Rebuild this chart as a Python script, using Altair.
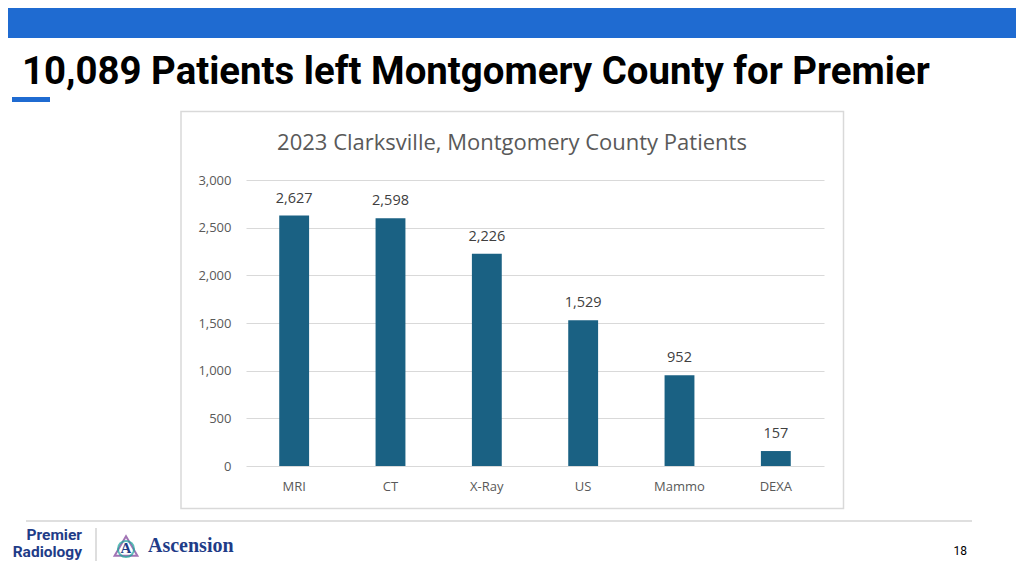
import altair as alt
import pandas as pd

# ---- data ----
categories = ["MRI", "CT", "X-Ray", "US", "Mammo", "DEXA"]
patients = [2627, 2598, 2226, 1529, 952, 157]
y_ticks = [0, 500, 1000, 1500, 2000, 2500, 3000]

slide_title = "10,089 Patients left Montgomery County for Premier"
chart_title = "2023 Clarksville, Montgomery County Patients"
page_number = "18"

df = pd.DataFrame({"category": categories, "patients": patients})
one = pd.DataFrame({"k": [0]})

# plot area origin in page coordinates
OX, OY = 246, 180
PW, PH = 578, 286


def px(x):
    return x - OX


def py(y):
    return y - OY


AXIS_GRAY = "#595959"
BAR = "#1a6183"
NAVY = "#1f3c88"

x_enc = alt.X(
    "category:N",
    sort=categories,
    title=None,
    scale=alt.Scale(paddingInner=0.69, paddingOuter=0.345),
    axis=alt.Axis(
        labelAngle=0,
        labelColor=AXIS_GRAY,
        labelFont="Open Sans",
        labelFontSize=13,
        labelPadding=14,
        ticks=False,
        domain=False,
        grid=False,
    ),
)
y_enc = alt.Y(
    "patients:Q",
    title=None,
    scale=alt.Scale(domain=[0, 3000], nice=False),
    axis=alt.Axis(
        values=y_ticks,
        format=",.0f",
        labelColor=AXIS_GRAY,
        labelFont="Open Sans",
        labelFontSize=13,
        labelPadding=15,
        ticks=False,
        domain=False,
        gridColor="#d9d9d9",
        gridWidth=1,
    ),
)

base = alt.Chart(df)

bars = base.mark_bar(color=BAR).encode(x=x_enc, y=y_enc)
labels = base.mark_text(
    dy=-13, baseline="alphabetic", font="Open Sans", fontSize=14.5, color="#404040"
).encode(
    x=alt.X("category:N", sort=categories),
    y="patients:Q",
    text=alt.Text("patients:Q", format=",.0f"),
)


def rect(x1, y1, x2, y2, **kw):
    return alt.Chart(one).mark_rect(**kw).encode(
        x=alt.value(px(x1)), x2=alt.value(px(x2)),
        y=alt.value(py(y1)), y2=alt.value(py(y2)),
    )


def rule(x1, y1, x2, y2, **kw):
    return alt.Chart(one).mark_rule(**kw).encode(
        x=alt.value(px(x1)), x2=alt.value(px(x2)),
        y=alt.value(py(y1)), y2=alt.value(py(y2)),
    )


def text(t, x, y, **kw):
    return alt.Chart(one).mark_text(**kw).encode(
        x=alt.value(px(x)), y=alt.value(py(y)), text=alt.value(t)
    )


top_bar = rect(0, 0, 1024, 38, color="#1f6bd1")
accent = rect(12, 97, 50, 102, color="#1f6bd1")
frame = rect(181, 111.5, 843.5, 508.5, fillOpacity=0, stroke="#d9d9d9", strokeWidth=1.5)

title_t = text(slide_title, 22, 84, font="Roboto", fontWeight="bold", fontSize=38.4,
               color="#000000", align="left", baseline="alphabetic")
chart_t = text(chart_title, 512, 150, font="Open Sans", fontSize=22,
               color=AXIS_GRAY, align="center", baseline="alphabetic")

footer_line = rule(26, 521, 972, 521, color="#d4d4d4", strokeWidth=1.5)
sep = rule(96, 528, 96, 561, color="#bdbdbd", strokeWidth=1)
prem = text("Premier", 82, 540, font="Roboto", fontWeight="bold", fontSize=15.5,
            color=NAVY, align="right", baseline="alphabetic")
radi = text("Radiology", 82, 557, font="Roboto", fontWeight="bold", fontSize=15.5,
            color=NAVY, align="right", baseline="alphabetic")
logo_tri = alt.Chart(one).mark_point(shape="triangle-up", filled=False, size=520,
                                     stroke="#7b3a96", strokeWidth=2).encode(
    x=alt.value(px(126)), y=alt.value(py(546)))
logo_circ = alt.Chart(one).mark_point(shape="circle", filled=False, size=260,
                                      stroke="#1aa39a", strokeWidth=2).encode(
    x=alt.value(px(126)), y=alt.value(py(549)))
logo_a = text("A", 126, 553, font="Liberation Serif", fontWeight="bold", fontSize=15,
              color=NAVY, align="center", baseline="alphabetic")
ascension = text("Ascension", 148, 552, font="Liberation Serif", fontWeight="bold",
                 fontSize=20, color=NAVY, align="left", baseline="alphabetic")
page_t = text(page_number, 967, 555, font="Roboto", fontSize=12, color="#000000",
              align="right", baseline="alphabetic")

chart = alt.layer(
    top_bar, accent, frame, title_t, chart_t,
    bars, labels,
    footer_line, sep, prem, radi, logo_tri, logo_circ, logo_a, ascension, page_t,
).properties(
    width=PW,
    height=PH,
    autosize=alt.AutoSizeParams(type="none"),
    padding={"left": OX - 8, "top": OY - 8, "right": 1008 - (OX - 8) - PW,
             "bottom": 559 - (OY - 8) - PH},
    background="#ffffff",
).configure_view(stroke=None)

chart.save("out.html", embed_options={"renderer": "svg", "actions": False})
